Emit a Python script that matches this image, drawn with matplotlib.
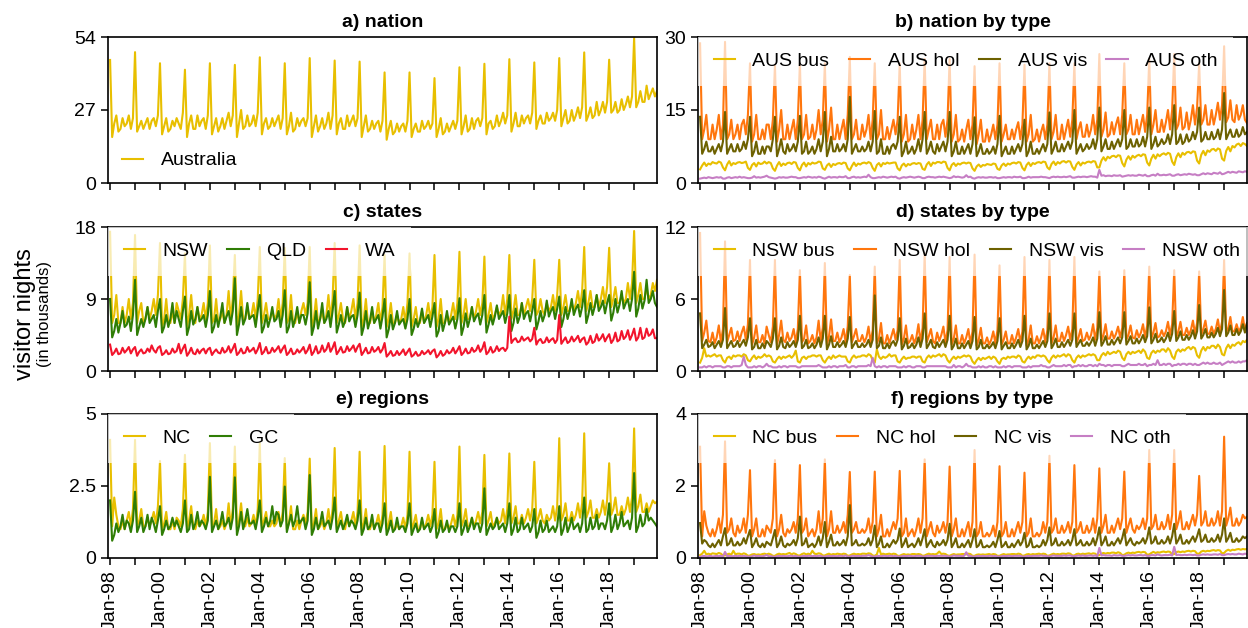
import matplotlib
matplotlib.use("Agg")
import matplotlib.pyplot as plt
import numpy as np

plt.rcParams['font.family'] = ['Liberation Sans', 'DejaVu Sans']

# monthly visitor nights (thousands), Jan-1998 .. Dec-2019, one row per year
australia = [
    45.5, 17, 22, 25, 19, 20, 24, 21, 22, 25, 20, 24,
    48.4, 19, 21, 23, 20, 22, 24, 20, 23, 24, 21, 25,
    44.3, 18, 21, 24, 19, 20, 23, 21, 24, 22, 20, 26,
    41.9, 17, 22, 25, 20, 20, 25, 21, 23, 24, 20, 25,
    44.3, 18, 21, 24, 19, 21, 24, 20, 23, 26, 21, 25,
    43.7, 17, 22, 27, 20, 21, 25, 21, 22, 25, 21, 26,
    46.5, 18, 22, 24, 20, 21, 24, 21, 23, 25, 20, 24,
    44.3, 18, 21, 26, 19, 20, 24, 21, 23, 24, 21, 24,
    46.2, 17, 21, 25, 19, 21, 24, 20, 22, 26, 20, 25,
    45.3, 18, 22, 24, 20, 20, 25, 21, 23, 25, 21, 24,
    44.9, 17, 21, 25, 19, 20, 23, 20, 22, 23, 19, 23,
    40.9, 16, 20, 23, 18, 19, 22, 19, 21, 22, 19, 23,
    40.9, 17, 20, 22, 19, 19, 23, 20, 21, 23, 20, 22,
    38.8, 17, 20, 24, 18, 19, 22, 19, 21, 23, 20, 23,
    42.8, 18, 21, 25, 19, 20, 24, 20, 23, 24, 21, 24,
    44.1, 18, 22, 23, 20, 21, 25, 21, 23, 26, 22, 25,
    45.8, 19, 22, 26, 21, 21, 25, 22, 24, 25, 22, 26,
    44.6, 20, 23, 25, 22, 22, 26, 23, 24, 26, 23, 27,
    46.2, 21, 24, 27, 22, 23, 27, 23, 25, 28, 24, 28,
    48.3, 23, 25, 28, 24, 25, 30, 25, 27, 30, 26, 30,
    45.6, 26, 27, 30, 26, 27, 31, 27, 29, 32, 28, 32,
    53.6, 28, 30, 34, 30, 30, 36, 31, 33, 35, 32, 34,
]

aus_bus = [
    2.8, 3.6, 4.2, 3.5, 4.0, 3.8, 4.3, 4.1, 4.0, 4.4, 4.2, 3.2,
    2.6, 3.8, 4.5, 3.6, 4.1, 3.9, 4.2, 4.3, 4.1, 4.2, 4.4, 3.1,
    2.7, 3.7, 4.1, 3.4, 4.2, 3.9, 4.0, 4.4, 4.0, 4.3, 4.1, 3.0,
    2.5, 3.6, 4.3, 3.5, 4.0, 3.7, 4.1, 4.2, 3.9, 4.3, 4.2, 3.1,
    2.6, 3.7, 4.2, 3.4, 4.1, 3.8, 4.2, 4.0, 4.1, 4.4, 4.3, 3.0,
    2.7, 3.6, 4.0, 3.3, 3.9, 3.7, 4.0, 4.1, 3.9, 4.2, 4.1, 3.0,
    2.6, 3.5, 4.2, 3.5, 4.0, 3.8, 4.1, 4.2, 4.0, 4.3, 4.1, 3.1,
    2.5, 3.7, 4.1, 3.4, 4.1, 3.9, 4.2, 4.0, 4.1, 4.2, 4.2, 3.0,
    2.6, 3.6, 4.0, 3.4, 3.9, 3.7, 4.0, 4.1, 3.9, 4.1, 4.0, 2.9,
    2.7, 3.8, 4.3, 3.5, 4.2, 4.0, 4.3, 4.3, 4.1, 4.4, 4.3, 3.1,
    2.6, 3.7, 4.1, 3.5, 4.0, 3.8, 4.1, 4.2, 4.0, 4.2, 4.1, 3.0,
    2.5, 3.4, 3.8, 3.3, 3.7, 3.6, 3.9, 3.8, 3.7, 4.0, 3.9, 2.9,
    2.7, 3.6, 4.0, 3.5, 4.0, 3.8, 4.1, 4.2, 4.0, 4.3, 4.2, 3.1,
    2.6, 3.7, 4.2, 3.5, 4.1, 3.9, 4.2, 4.3, 4.1, 4.4, 4.3, 3.2,
    2.8, 3.9, 4.4, 3.7, 4.3, 4.0, 4.4, 4.5, 4.2, 4.5, 4.4, 3.3,
    2.7, 3.8, 4.3, 3.6, 4.2, 4.0, 4.3, 4.4, 4.2, 4.5, 4.4, 3.2,
    3.2, 4.6, 5.3, 4.6, 5.4, 5.1, 5.5, 5.6, 5.3, 5.7, 5.6, 4.1,
    3.4, 4.8, 5.5, 4.8, 5.6, 5.2, 5.6, 5.8, 5.5, 5.9, 5.8, 4.2,
    3.6, 5.0, 5.8, 5.0, 5.9, 5.5, 5.9, 6.1, 5.8, 6.2, 6.0, 4.4,
    3.7, 5.3, 6.1, 5.3, 6.2, 5.8, 6.3, 6.4, 6.1, 6.5, 6.4, 4.6,
    4.0, 5.8, 6.6, 5.7, 6.7, 6.4, 6.9, 7.0, 6.6, 7.1, 6.9, 5.0,
    4.6, 6.6, 7.4, 6.5, 7.6, 7.3, 7.9, 8.1, 7.6, 8.2, 8.0, 7.6,
]

aus_hol = [
    28.7, 9, 11, 14, 9, 9, 12, 9, 11, 14, 9, 12,
    29.0, 9, 10, 13, 9, 10, 12, 9, 12, 13, 10, 14,
    24.6, 8.5, 10, 14, 9, 9, 11, 9, 12, 12, 9, 13,
    24.3, 8.5, 11, 15, 9, 9, 12, 9, 11, 13, 9, 13,
    24.6, 9, 10, 14, 9, 9.5, 12, 9, 11, 15, 10, 13,
    24.6, 8.5, 11, 15.5, 9, 9, 12, 9, 11, 13, 9, 14,
    25.9, 9, 10, 13, 9, 9, 12, 9.5, 11, 14, 9, 13,
    24.6, 9, 10, 15, 9, 9, 11.5, 9, 11, 13, 10, 13,
    24.6, 8.5, 10, 14, 8.5, 9, 12, 9, 11, 14, 9, 13,
    25.5, 9, 11, 13, 9, 9, 12, 9, 12, 13, 9.5, 13,
    25.5, 8.5, 10, 14, 8.5, 9, 11, 8.5, 11, 13, 9, 12,
    24.0, 8, 10, 13, 8.5, 8.5, 11, 8.5, 10, 12, 9, 12,
    24.6, 8.5, 10, 12, 9, 9, 11, 9, 11, 12.5, 9, 12,
    24.3, 8.5, 10, 14, 8.5, 9, 11, 8.5, 10.5, 12, 9, 12,
    24.6, 9, 10.5, 14, 9, 9, 12, 9, 11, 13, 9.5, 13,
    24.6, 9, 11, 12.5, 9.5, 9.5, 12, 9.5, 11, 14, 10, 13,
    26.5, 9.5, 11, 14.5, 9.5, 10, 12.5, 10, 12, 13.5, 10, 14,
    24.6, 10, 11, 14, 10, 10, 13, 10, 12, 14, 10.5, 14,
    25.5, 10, 12, 15, 10.5, 10.5, 13, 10.5, 12.5, 15, 11, 15,
    26.5, 11, 12, 15.5, 11, 11.5, 14.5, 11, 13, 16, 12, 15.5,
    24.6, 12, 13, 16, 12, 12, 15, 12, 14, 16.5, 13, 16,
    28.1, 12.5, 13.5, 17, 13, 12.5, 16, 13, 14, 16, 13, 12.3,
]

aus_vis = [
    13.6, 6, 7, 8.5, 6.5, 6.5, 7.5, 6, 7, 8, 6.5, 8.5,
    14.6, 6, 7, 8, 6.5, 6.5, 8, 6.5, 7, 8.5, 7, 9,
    13.6, 5.5, 6.5, 8.5, 6, 6, 7.5, 6, 7.5, 7.5, 6.5, 9,
    13.6, 5.5, 7, 9, 6.5, 6, 8, 6.5, 7, 8, 6.5, 8.5,
    13.8, 6, 6.5, 8.5, 6, 6.5, 7.5, 6, 7, 9, 6.5, 8.5,
    14.6, 5.5, 7, 9.5, 6.5, 6.5, 8, 6.5, 7, 8, 6.5, 9,
    17.7, 6, 7, 8, 6.5, 6.5, 7.5, 6.5, 7, 8.5, 6.5, 8.5,
    14.8, 6, 6.5, 9, 6, 6, 7.5, 6, 7.5, 8, 7, 8.5,
    13.6, 5.5, 6.5, 8.5, 6, 6.5, 7.5, 6, 7, 9, 6.5, 9,
    14.6, 6, 7, 8.5, 6.5, 6, 8, 6.5, 7.5, 8.5, 6.5, 8.5,
    14.6, 5.5, 6.5, 8.5, 6, 6, 7.5, 6, 7, 8, 6, 8,
    13.5, 5.5, 6.5, 8, 6, 6, 7, 6, 6.5, 7.5, 6, 8,
    13.8, 5.5, 6.5, 7.5, 6, 6, 7.5, 6, 7, 8, 6.5, 8,
    13.0, 5.5, 6.5, 8.5, 6, 6, 7, 6, 7, 8, 6.5, 8,
    14.5, 6, 7, 8.5, 6.5, 6.5, 8, 6.5, 7.5, 8.5, 7, 8.5,
    15.0, 6, 7, 8, 6.5, 7, 8, 7, 7.5, 9, 7, 9,
    15.5, 6.5, 7.5, 9, 7, 7, 8.5, 7, 8, 9, 7.5, 9,
    15.0, 7, 7.5, 9, 7.5, 7.5, 9, 7.5, 8, 9.5, 7.5, 9.5,
    15.5, 7, 8, 9.5, 7.5, 8, 9, 8, 8.5, 10, 8, 10,
    16.0, 8, 8.5, 10, 8, 8.5, 10, 8.5, 9, 10.5, 9, 10.5,
    15.5, 8.5, 9, 10.5, 9, 9, 10.5, 9, 9.5, 11, 9, 11,
    18.5, 9, 10, 11, 9.5, 9.5, 11, 9.5, 10, 11.5, 10, 10.5,
]

aus_oth = [
    0.9, 1.0, 1.1, 1.0, 1.2, 1.1, 1.0, 1.1, 1.2, 1.1, 1.2, 0.9,
    0.9, 1.1, 1.2, 1.0, 1.1, 1.2, 1.1, 1.3, 1.1, 1.2, 1.1, 1.0,
    1.0, 1.1, 1.4, 1.1, 1.2, 1.1, 1.2, 1.3, 1.5, 1.2, 1.1, 1.0,
    0.9, 1.0, 1.2, 1.1, 1.2, 1.1, 1.1, 1.2, 1.3, 1.2, 1.2, 1.0,
    1.0, 1.1, 1.2, 1.1, 1.3, 1.2, 1.1, 1.2, 1.1, 1.3, 1.2, 1.0,
    0.9, 1.1, 1.3, 1.1, 1.2, 1.2, 1.1, 1.3, 1.2, 1.2, 1.4, 1.0,
    1.0, 1.2, 1.3, 1.1, 1.2, 1.1, 1.2, 1.3, 1.2, 1.7, 1.2, 1.0,
    1.0, 1.1, 1.2, 1.1, 1.3, 1.2, 1.1, 1.2, 1.3, 1.2, 1.3, 1.0,
    0.9, 1.1, 1.2, 1.1, 1.2, 1.3, 1.2, 1.1, 1.2, 1.3, 1.2, 1.0,
    1.0, 1.2, 1.3, 1.2, 1.2, 1.1, 1.2, 1.3, 1.2, 1.3, 1.2, 1.1,
    1.0, 1.1, 1.4, 1.2, 1.3, 1.2, 1.1, 1.2, 1.6, 1.2, 1.3, 1.0,
    0.9, 1.1, 1.2, 1.1, 1.2, 1.1, 1.1, 1.2, 1.2, 1.1, 1.2, 1.0,
    1.0, 1.1, 1.2, 1.1, 1.2, 1.2, 1.1, 1.3, 1.2, 1.2, 1.3, 1.0,
    1.0, 1.1, 1.3, 1.1, 1.2, 1.2, 1.2, 1.2, 1.3, 1.2, 1.2, 1.1,
    1.0, 1.2, 1.3, 1.2, 1.3, 1.2, 1.2, 1.3, 1.2, 1.3, 1.4, 1.1,
    1.1, 1.2, 1.3, 1.2, 1.3, 1.3, 1.2, 1.3, 1.4, 1.3, 1.3, 1.1,
    2.7, 1.5, 1.6, 1.4, 1.5, 1.5, 1.4, 1.6, 1.5, 1.5, 1.6, 1.3,
    1.4, 1.5, 1.6, 1.5, 1.6, 1.5, 1.5, 1.7, 1.6, 1.5, 1.7, 1.4,
    1.4, 1.6, 1.7, 1.5, 1.9, 1.6, 1.6, 1.7, 1.6, 1.7, 1.8, 1.5,
    1.5, 1.7, 1.8, 1.6, 1.7, 1.8, 1.7, 1.9, 1.8, 1.7, 1.8, 1.6,
    1.6, 1.8, 2.0, 1.8, 2.0, 1.9, 1.8, 2.1, 2.0, 1.9, 2.2, 1.8,
    1.9, 2.1, 2.3, 2.1, 2.3, 2.2, 2.1, 2.4, 2.3, 2.2, 2.4, 2.3,
]

nsw = [
    17.4, 6, 7, 9.5, 6, 6, 8, 6, 7, 9, 6.5, 8.5,
    17.0, 6, 7.5, 8.5, 6, 6.5, 8, 6.5, 7.5, 9, 7, 9.5,
    16.0, 5.5, 6.5, 9, 6, 6, 7.5, 6, 8.5, 7.5, 6.5, 9,
    14.7, 5.5, 7, 9.5, 6.5, 6, 8, 6.5, 7, 8.5, 6.5, 8.5,
    15.7, 6, 6.5, 9, 6, 6.5, 7.5, 6, 7, 10, 6.5, 9,
    14.5, 5.5, 7, 10, 6.5, 6.5, 8, 6.5, 7, 8.5, 6.5, 9,
    15.5, 6, 7, 8.5, 6.5, 6.5, 7.5, 6.5, 7, 9, 6.5, 8.5,
    15.4, 6, 6.5, 9.5, 6, 6, 7.5, 6, 7.5, 8.5, 7, 8.5,
    15.5, 5.5, 6.5, 9, 6, 6.5, 7.5, 6, 7, 9.5, 6.5, 9,
    16.0, 6, 7, 8.5, 6.5, 6, 8, 6.5, 7.5, 9, 6.5, 8.5,
    15.7, 5.5, 6.5, 9, 6, 6, 7.5, 6, 7, 8.5, 6, 8,
    14.5, 5.5, 6.5, 8.5, 6, 6, 7, 6, 6.5, 8, 6, 8.5,
    14.7, 5.5, 6.5, 8, 6, 6, 7.5, 6, 7, 8.5, 6.5, 8,
    14.5, 5.5, 6.5, 9, 6, 6, 7, 6, 7, 8.5, 6.5, 8.5,
    14.9, 6, 7, 9, 6.5, 6.5, 8, 6.5, 7.5, 9, 7, 8.5,
    14.3, 6, 7, 8.5, 6.5, 7, 8, 7, 7.5, 9.5, 7, 9,
    14.5, 6.5, 7.5, 9.5, 7, 7, 8.5, 7, 8, 9, 7.5, 9,
    13.9, 7, 7.5, 9, 7.5, 7, 8.5, 7.5, 8, 9.5, 7.5, 9.5,
    13.9, 7, 8, 9.5, 7.5, 7.5, 8.5, 7.5, 8.5, 10, 8, 10,
    15.5, 7.5, 8.5, 10, 8, 8, 9.5, 8, 9, 10.5, 8.5, 10.5,
    15.4, 8, 9, 10.5, 8.5, 8.5, 9.5, 8.5, 9, 11, 9, 11,
    17.5, 8.5, 9.5, 11, 9, 9, 10.5, 9, 9.5, 11, 10, 11.4,
]

qld = [
    9.0, 4.2, 5.0, 6.5, 4.8, 6.0, 7.5, 5.5, 5.8, 6.8, 5.0, 7.0,
    11.4, 4.5, 5.5, 6.5, 5.5, 6.5, 8.0, 6.0, 6.5, 7.0, 5.5, 7.5,
    9.0, 4.8, 5.5, 7.0, 5.5, 6.5, 8.5, 6.0, 7.5, 6.5, 5.5, 7.5,
    9.3, 4.5, 5.5, 7.5, 5.8, 6.5, 8.0, 6.2, 6.5, 7.0, 5.5, 7.0,
    10.0, 4.8, 5.5, 7.0, 5.5, 6.8, 8.5, 6.0, 6.8, 7.5, 5.8, 7.5,
    11.6, 4.5, 5.8, 8.0, 5.8, 6.5, 8.5, 6.5, 6.8, 7.0, 5.5, 7.5,
    9.5, 4.8, 5.5, 7.0, 5.5, 6.5, 8.0, 6.2, 6.5, 7.5, 5.5, 7.0,
    10.1, 4.8, 5.5, 7.5, 5.5, 6.5, 8.0, 6.0, 7.0, 7.0, 5.8, 7.2,
    11.1, 4.5, 5.5, 7.5, 5.3, 6.5, 8.5, 6.0, 6.5, 7.5, 5.5, 7.5,
    10.0, 4.8, 5.8, 7.0, 5.5, 6.2, 8.0, 6.2, 6.8, 7.0, 5.5, 7.0,
    9.8, 4.5, 5.5, 7.5, 5.3, 6.3, 8.0, 6.0, 6.5, 7.0, 5.3, 6.8,
    9.0, 4.2, 5.2, 7.0, 5.2, 6.0, 7.5, 5.8, 6.2, 6.5, 5.3, 6.5,
    9.0, 4.5, 5.3, 6.5, 5.5, 6.3, 7.8, 6.0, 6.5, 7.0, 5.5, 6.8,
    8.5, 4.3, 5.0, 7.0, 5.0, 6.0, 7.5, 5.8, 6.3, 6.8, 5.3, 6.5,
    9.1, 4.5, 5.5, 7.2, 5.5, 6.5, 8.0, 6.2, 6.8, 7.2, 5.8, 7.0,
    9.5, 4.8, 5.8, 7.0, 5.8, 6.8, 8.2, 6.5, 7.0, 7.5, 6.0, 7.2,
    9.5, 5.0, 6.0, 7.8, 6.0, 6.8, 8.5, 6.5, 7.2, 7.5, 6.2, 7.5,
    9.0, 5.2, 6.2, 7.5, 6.2, 7.0, 8.8, 6.8, 7.5, 8.0, 6.5, 7.8,
    9.3, 5.5, 6.5, 8.0, 6.5, 7.5, 9.0, 7.0, 7.8, 8.3, 6.8, 8.0,
    10.1, 6.0, 7.0, 8.5, 7.0, 8.0, 9.5, 7.5, 8.0, 8.8, 7.2, 8.5,
    9.5, 6.3, 7.3, 9.0, 7.3, 8.3, 10.0, 7.8, 8.5, 9.0, 7.5, 9.0,
    12.4, 6.8, 7.8, 9.5, 7.8, 8.8, 11.4, 8.5, 9.0, 10.0, 8.5, 8.0,
]

wa = [
    3.3, 2.0, 2.3, 2.8, 2.1, 2.2, 2.9, 2.3, 2.6, 3.0, 2.2, 2.7,
    3.0, 1.9, 2.4, 2.7, 2.2, 2.3, 2.8, 2.4, 3.2, 2.6, 2.3, 2.9,
    3.1, 2.0, 2.2, 2.6, 2.1, 2.2, 2.8, 2.3, 2.5, 3.4, 2.2, 2.8,
    3.3, 1.9, 2.3, 2.9, 2.2, 2.1, 2.7, 2.2, 2.6, 2.8, 2.2, 2.7,
    2.9, 2.0, 2.4, 2.7, 2.3, 2.2, 2.9, 2.3, 2.5, 3.1, 2.3, 2.8,
    3.4, 2.0, 2.3, 2.8, 2.2, 2.3, 3.0, 2.4, 2.6, 2.9, 2.2, 2.7,
    3.5, 2.1, 2.4, 3.0, 2.2, 2.3, 2.9, 2.4, 2.7, 3.1, 2.3, 2.8,
    3.2, 2.0, 2.3, 2.8, 2.1, 2.2, 2.7, 2.3, 2.6, 3.0, 2.2, 2.6,
    3.3, 2.0, 2.4, 3.1, 2.2, 2.4, 3.2, 2.4, 2.7, 3.5, 2.4, 2.9,
    3.6, 2.1, 2.5, 3.0, 2.3, 2.4, 3.1, 2.5, 2.8, 3.2, 2.4, 3.0,
    3.4, 2.0, 2.4, 2.9, 2.2, 2.3, 3.0, 2.4, 2.6, 3.0, 2.3, 2.7,
    3.5, 1.8, 2.1, 2.5, 1.9, 2.0, 2.5, 2.0, 2.3, 2.7, 2.0, 2.4,
    2.8, 1.8, 2.0, 2.4, 1.9, 2.0, 2.5, 2.1, 2.3, 2.6, 2.1, 2.5,
    2.7, 1.7, 2.0, 2.5, 1.9, 2.1, 2.6, 2.2, 2.4, 2.9, 2.2, 2.6,
    3.1, 2.0, 2.3, 2.8, 2.2, 2.3, 2.9, 2.4, 2.6, 3.2, 2.4, 2.8,
    3.6, 2.1, 2.4, 3.0, 2.3, 2.5, 3.1, 2.5, 2.8, 2.9, 2.5, 2.9,
    6.8, 3.5, 3.9, 4.1, 3.6, 3.7, 4.3, 3.8, 4.0, 4.2, 3.7, 4.0,
    5.4, 3.3, 3.8, 4.0, 3.5, 3.6, 4.2, 3.6, 3.9, 4.1, 3.5, 3.9,
    7.0, 3.4, 3.8, 4.2, 3.5, 3.7, 4.3, 3.7, 4.0, 4.4, 3.6, 4.0,
    4.2, 3.3, 3.6, 4.4, 3.5, 3.7, 4.6, 3.8, 4.1, 4.6, 3.7, 4.2,
    4.6, 3.5, 3.9, 4.8, 3.7, 3.9, 5.0, 4.0, 4.3, 5.1, 3.9, 4.5,
    5.3, 3.8, 4.2, 5.4, 4.0, 4.2, 5.3, 4.4, 4.6, 5.2, 4.1, 4.1,
]

nsw_bus = [
    0.7, 1.1, 1.9, 1.2, 1.3, 1.2, 1.3, 1.4, 1.2, 1.3, 1.3, 0.9,
    0.7, 1.1, 1.2, 1.0, 1.3, 1.2, 1.3, 1.3, 1.2, 1.4, 1.3, 0.9,
    0.8, 1.1, 1.3, 1.0, 1.2, 1.1, 1.2, 1.4, 1.2, 1.3, 1.2, 0.8,
    0.7, 1.0, 1.2, 1.0, 1.2, 1.1, 1.2, 1.3, 1.1, 1.3, 1.7, 0.8,
    0.7, 1.1, 1.2, 1.0, 1.2, 1.2, 1.3, 1.3, 1.2, 1.3, 1.3, 0.9,
    0.7, 1.0, 1.2, 1.0, 1.3, 1.1, 1.2, 1.3, 1.2, 1.2, 1.2, 0.8,
    0.7, 1.1, 1.3, 1.1, 1.2, 1.2, 1.3, 1.3, 1.2, 1.4, 1.3, 0.9,
    0.7, 1.8, 1.2, 1.0, 1.2, 1.1, 1.2, 1.4, 1.2, 1.3, 1.3, 0.8,
    0.7, 1.0, 1.2, 1.0, 1.1, 1.1, 1.2, 1.2, 1.1, 1.2, 1.2, 0.8,
    0.7, 1.1, 1.3, 1.1, 1.3, 1.2, 1.3, 1.4, 1.2, 1.4, 1.3, 0.9,
    0.7, 1.0, 1.2, 1.0, 1.2, 1.1, 1.2, 1.3, 1.2, 1.3, 1.2, 0.8,
    0.6, 0.9, 1.1, 0.9, 1.1, 1.0, 1.1, 1.2, 1.0, 1.2, 1.1, 0.8,
    0.6, 1.0, 1.1, 1.0, 1.2, 1.1, 1.2, 1.2, 1.1, 1.3, 1.2, 0.8,
    0.7, 1.0, 1.2, 1.0, 1.2, 1.1, 1.3, 1.3, 1.2, 1.3, 1.2, 0.9,
    0.7, 1.1, 1.3, 1.1, 1.3, 1.2, 1.3, 1.4, 1.2, 1.4, 1.3, 0.9,
    0.7, 1.1, 1.3, 1.1, 1.3, 1.2, 1.3, 1.4, 1.3, 1.4, 1.3, 0.9,
    0.9, 1.3, 1.5, 1.3, 1.6, 1.4, 1.5, 1.6, 1.5, 1.7, 1.6, 1.1,
    0.9, 1.4, 1.6, 1.4, 1.6, 1.5, 1.6, 1.7, 1.5, 1.8, 1.6, 1.1,
    1.0, 1.5, 1.7, 1.5, 1.7, 1.6, 1.8, 1.8, 1.6, 1.9, 1.7, 1.2,
    1.0, 1.6, 1.8, 1.6, 1.8, 1.7, 1.9, 2.0, 1.8, 2.0, 1.9, 1.3,
    1.1, 1.7, 2.0, 1.7, 2.0, 1.9, 2.1, 2.1, 1.9, 2.2, 2.0, 1.4,
    1.3, 1.9, 2.2, 1.9, 2.2, 2.1, 2.3, 2.4, 2.2, 2.5, 2.4, 2.6,
]

nsw_hol = [
    11.5, 2.5, 3.2, 4.2, 2.5, 2.4, 3.2, 2.3, 2.8, 3.8, 2.4, 3.5,
    10.8, 2.4, 3.0, 3.6, 2.5, 2.6, 3.3, 2.5, 3.2, 3.7, 2.6, 3.9,
    9.25, 2.2, 2.8, 3.8, 2.4, 2.4, 3.0, 2.3, 3.7, 3.0, 2.4, 3.7,
    9.25, 2.2, 3.0, 4.2, 2.6, 2.4, 3.2, 2.5, 2.8, 3.5, 2.4, 3.5,
    8.4, 2.4, 2.7, 3.8, 2.3, 2.5, 3.0, 2.3, 2.8, 4.2, 2.5, 3.6,
    9.0, 2.2, 2.9, 4.3, 2.5, 2.5, 3.2, 2.4, 2.8, 3.5, 2.4, 3.7,
    8.0, 2.4, 2.9, 3.5, 2.5, 2.5, 3.0, 2.4, 2.8, 3.7, 2.4, 3.4,
    8.7, 2.3, 2.7, 4.0, 2.3, 2.3, 3.0, 2.3, 2.9, 3.5, 2.6, 3.4,
    9.25, 2.2, 2.7, 3.8, 2.3, 2.5, 3.0, 2.3, 2.8, 3.9, 2.4, 3.6,
    9.8, 2.4, 2.9, 3.5, 2.5, 2.3, 3.2, 2.5, 3.0, 3.7, 2.4, 3.4,
    9.5, 2.2, 2.7, 3.8, 2.3, 2.3, 3.0, 2.3, 2.8, 3.5, 2.3, 3.3,
    9.7, 2.1, 2.6, 3.6, 2.3, 2.3, 2.8, 2.2, 2.6, 3.3, 2.3, 3.4,
    8.8, 2.2, 2.6, 3.3, 2.3, 2.3, 3.0, 2.3, 2.8, 3.5, 2.4, 3.3,
    9.5, 2.1, 2.6, 3.8, 2.3, 2.3, 2.9, 2.3, 2.8, 3.5, 2.4, 3.4,
    9.25, 2.3, 2.8, 3.8, 2.5, 2.5, 3.2, 2.5, 3.0, 3.7, 2.6, 3.5,
    9.5, 2.3, 2.8, 3.5, 2.5, 2.6, 3.2, 2.6, 3.0, 3.9, 2.6, 3.6,
    8.3, 2.5, 3.0, 3.9, 2.7, 2.7, 3.3, 2.7, 3.1, 3.7, 2.8, 3.6,
    8.4, 2.6, 3.0, 3.8, 2.8, 2.7, 3.4, 2.8, 3.2, 3.9, 2.8, 3.8,
    8.7, 2.7, 3.2, 4.0, 2.8, 2.9, 3.4, 2.9, 3.3, 4.1, 3.0, 3.9,
    8.4, 2.8, 3.3, 4.1, 3.0, 3.0, 3.6, 3.0, 3.4, 4.2, 3.1, 4.0,
    8.3, 3.0, 3.5, 4.2, 3.1, 3.1, 3.7, 3.1, 3.5, 4.3, 3.2, 4.1,
    9.25, 3.2, 3.6, 4.5, 3.3, 3.3, 3.9, 3.3, 3.6, 4.5, 3.4, 4.0,
]

nsw_vis = [
    4.8, 1.9, 2.2, 2.6, 2.0, 2.1, 2.4, 1.9, 2.2, 2.5, 2.0, 2.6,
    5.25, 1.9, 2.2, 2.5, 2.0, 2.1, 2.5, 2.0, 2.3, 2.6, 2.1, 2.8,
    4.4, 1.8, 2.0, 2.6, 1.9, 1.9, 2.3, 1.9, 2.5, 2.3, 2.0, 2.7,
    4.4, 1.8, 2.1, 2.8, 2.0, 1.9, 2.4, 2.0, 2.2, 2.5, 2.0, 2.6,
    4.6, 1.9, 2.1, 2.6, 1.9, 2.0, 2.3, 1.9, 2.2, 2.8, 2.0, 2.7,
    4.6, 1.8, 2.2, 2.9, 2.0, 2.0, 2.4, 2.0, 2.2, 2.5, 2.0, 2.7,
    4.5, 1.9, 2.2, 2.5, 2.0, 2.0, 2.3, 2.0, 2.2, 2.6, 2.0, 2.6,
    6.3, 1.9, 2.1, 2.8, 1.9, 1.9, 2.3, 1.9, 2.3, 2.5, 2.1, 2.6,
    4.4, 1.8, 2.1, 2.7, 1.9, 2.0, 2.3, 1.9, 2.2, 2.8, 2.0, 2.7,
    4.8, 1.9, 2.2, 2.6, 2.0, 1.9, 2.4, 2.0, 2.3, 2.6, 2.0, 2.6,
    4.6, 1.8, 2.1, 2.7, 1.9, 1.9, 2.3, 1.9, 2.2, 2.5, 1.9, 2.5,
    4.5, 1.8, 2.0, 2.6, 1.9, 1.9, 2.2, 1.9, 2.1, 2.4, 1.9, 2.5,
    4.4, 1.8, 2.1, 2.4, 1.9, 1.9, 2.3, 1.9, 2.2, 2.6, 2.0, 2.5,
    4.6, 1.8, 2.1, 2.7, 1.9, 1.9, 2.2, 1.9, 2.2, 2.5, 2.0, 2.5,
    4.8, 1.9, 2.2, 2.7, 2.0, 2.0, 2.4, 2.0, 2.3, 2.6, 2.1, 2.6,
    4.8, 2.0, 2.3, 2.6, 2.1, 2.1, 2.4, 2.1, 2.4, 2.8, 2.1, 2.7,
    4.9, 2.1, 2.4, 2.9, 2.2, 2.2, 2.6, 2.2, 2.5, 2.8, 2.3, 2.8,
    4.9, 2.2, 2.5, 2.9, 2.3, 2.3, 2.7, 2.3, 2.6, 3.0, 2.4, 2.9,
    5.3, 2.3, 2.6, 3.1, 2.4, 2.5, 2.8, 2.4, 2.7, 3.2, 2.5, 3.1,
    5.0, 2.5, 2.8, 3.3, 2.6, 2.6, 3.0, 2.6, 2.9, 3.4, 2.7, 3.3,
    5.5, 2.7, 3.0, 3.5, 2.8, 2.8, 3.2, 2.8, 3.1, 3.6, 2.9, 3.5,
    6.75, 2.9, 3.2, 3.8, 3.0, 3.0, 3.5, 3.0, 3.3, 3.9, 3.2, 4.0,
]

nsw_oth = [
    0.3, 0.3, 0.4, 0.3, 0.4, 0.4, 0.3, 0.4, 0.4, 0.4, 0.4, 0.3,
    0.3, 0.4, 0.4, 0.3, 0.4, 0.4, 0.4, 0.4, 0.5, 1.2, 0.5, 0.3,
    0.3, 0.3, 0.4, 0.3, 0.4, 0.4, 0.3, 0.4, 0.6, 0.4, 0.4, 0.3,
    0.3, 0.3, 0.4, 0.3, 0.4, 0.4, 0.3, 0.4, 0.4, 0.4, 0.4, 0.3,
    0.3, 0.4, 0.4, 0.4, 0.4, 0.4, 0.4, 0.4, 0.4, 0.5, 0.4, 0.3,
    0.3, 0.3, 0.4, 0.3, 0.4, 0.4, 0.3, 0.4, 0.4, 0.4, 0.5, 0.3,
    0.3, 0.4, 0.4, 0.3, 0.4, 0.4, 0.4, 0.4, 0.4, 0.5, 0.4, 1.1,
    0.4, 0.3, 0.4, 0.3, 0.4, 0.4, 0.3, 0.4, 0.4, 0.4, 0.4, 0.3,
    0.3, 0.3, 0.4, 0.3, 0.4, 0.4, 0.3, 0.3, 0.4, 0.4, 0.4, 0.3,
    0.3, 0.4, 0.4, 0.4, 0.4, 0.4, 0.4, 0.4, 0.4, 0.4, 0.4, 0.3,
    0.3, 0.3, 0.5, 0.3, 0.4, 0.4, 0.3, 0.4, 0.6, 0.4, 0.4, 0.3,
    0.3, 0.3, 0.4, 0.3, 0.4, 0.3, 0.3, 0.4, 0.4, 0.3, 0.4, 0.3,
    0.3, 0.3, 0.4, 0.3, 0.4, 0.4, 0.3, 0.4, 0.4, 0.4, 0.4, 0.3,
    0.3, 0.3, 0.4, 0.3, 0.4, 0.4, 0.4, 0.4, 0.5, 0.4, 0.4, 0.3,
    0.3, 0.4, 0.5, 0.4, 0.4, 0.4, 0.4, 0.5, 0.4, 0.5, 0.5, 0.3,
    0.4, 0.4, 0.5, 0.4, 0.5, 0.4, 0.4, 0.5, 0.5, 0.4, 0.5, 0.4,
    0.6, 0.5, 0.5, 0.4, 0.5, 0.5, 0.4, 0.5, 0.5, 0.5, 0.5, 0.4,
    0.4, 0.5, 0.6, 0.5, 0.5, 0.5, 0.5, 0.6, 0.5, 0.5, 0.6, 0.4,
    0.5, 0.5, 0.6, 0.5, 0.9, 0.5, 0.5, 0.6, 0.5, 0.6, 0.6, 0.4,
    0.5, 0.5, 0.6, 0.5, 0.6, 0.6, 0.5, 0.6, 0.6, 0.5, 0.6, 0.5,
    0.5, 0.6, 0.7, 0.6, 0.7, 0.6, 0.6, 0.7, 0.6, 0.6, 0.7, 0.5,
    0.6, 0.7, 0.8, 0.7, 0.8, 0.7, 0.7, 0.8, 0.7, 0.8, 0.8, 0.9,
]

nc = [
    4.1, 1.1, 2.1, 1.5, 1.1, 1.0, 1.3, 1.0, 1.3, 1.6, 1.1, 1.7,
    4.1, 1.1, 1.3, 1.7, 1.1, 1.1, 1.4, 1.1, 1.3, 1.6, 1.2, 1.8,
    3.37, 1.0, 1.2, 1.6, 1.0, 1.0, 1.3, 1.0, 1.4, 1.3, 1.1, 1.7,
    3.58, 1.0, 1.3, 1.8, 1.1, 1.0, 1.3, 1.1, 1.2, 1.5, 1.1, 1.6,
    3.99, 1.1, 1.2, 1.7, 1.0, 1.1, 1.3, 1.0, 1.2, 1.9, 1.1, 1.7,
    3.87, 1.0, 1.3, 1.9, 1.1, 1.1, 1.4, 1.1, 1.2, 1.5, 1.1, 1.7,
    3.99, 1.1, 1.3, 1.6, 1.1, 1.1, 1.3, 1.1, 1.2, 1.6, 1.1, 1.6,
    3.47, 1.0, 1.2, 1.8, 1.0, 1.0, 1.3, 1.0, 1.3, 1.5, 1.2, 1.6,
    3.45, 1.0, 1.2, 1.7, 1.0, 1.1, 1.3, 1.0, 1.2, 1.7, 1.1, 1.7,
    3.82, 1.0, 1.3, 1.6, 1.1, 1.0, 1.4, 1.1, 1.3, 1.6, 1.1, 1.6,
    3.69, 1.0, 1.2, 1.7, 1.0, 1.0, 1.3, 1.0, 1.2, 1.5, 1.0, 1.5,
    3.89, 1.0, 1.2, 1.6, 1.0, 1.0, 1.2, 1.0, 1.1, 1.4, 1.0, 1.5,
    3.69, 1.0, 1.2, 1.5, 1.0, 1.0, 1.3, 1.0, 1.2, 1.5, 1.1, 1.5,
    3.34, 1.0, 1.2, 1.7, 1.0, 1.0, 1.2, 1.0, 1.2, 1.5, 1.1, 1.5,
    3.87, 1.1, 1.3, 1.7, 1.1, 1.1, 1.4, 1.1, 1.3, 1.6, 1.2, 1.6,
    3.58, 1.1, 1.3, 1.6, 1.1, 1.2, 1.4, 1.2, 1.3, 1.7, 1.2, 1.7,
    3.63, 1.2, 1.4, 1.8, 1.2, 1.2, 1.5, 1.2, 1.4, 1.7, 1.3, 1.7,
    3.34, 1.2, 1.4, 1.7, 1.3, 1.2, 1.5, 1.3, 1.4, 1.8, 1.3, 1.8,
    4.16, 1.3, 1.5, 1.9, 1.3, 1.3, 1.6, 1.3, 1.5, 1.9, 1.4, 1.9,
    4.33, 1.4, 1.6, 2.0, 1.4, 1.4, 1.7, 1.4, 1.6, 2.0, 1.5, 2.0,
    3.29, 1.5, 1.7, 2.1, 1.5, 1.5, 1.8, 1.5, 1.7, 2.1, 1.6, 2.1,
    4.5, 1.6, 1.8, 2.2, 1.6, 1.6, 1.9, 1.6, 1.8, 2.0, 1.9, 1.96,
]

gc = [
    2.0, 0.6, 0.8, 1.2, 0.9, 1.1, 1.5, 1.0, 1.3, 1.2, 0.9, 1.3,
    2.3, 0.9, 1.1, 1.4, 0.9, 1.1, 1.5, 1.0, 1.4, 1.2, 0.9, 1.3,
    1.8, 0.8, 1.0, 1.3, 1.0, 1.1, 1.4, 1.1, 1.3, 1.1, 0.9, 1.2,
    2.0, 0.9, 1.0, 1.5, 1.0, 1.2, 1.6, 1.1, 1.3, 1.2, 1.0, 1.3,
    2.82, 0.9, 1.1, 1.3, 1.0, 1.2, 1.6, 1.1, 1.2, 1.4, 1.0, 1.4,
    2.8, 0.8, 1.1, 1.6, 1.0, 1.3, 1.7, 1.2, 1.2, 1.3, 1.0, 1.4,
    2.0, 0.9, 1.1, 1.4, 1.1, 1.3, 1.8, 1.2, 1.6, 1.5, 1.1, 1.3,
    2.48, 0.9, 1.2, 1.5, 1.1, 1.3, 1.8, 1.2, 1.3, 1.4, 1.0, 1.3,
    2.88, 0.8, 1.0, 1.4, 1.0, 1.2, 1.6, 1.1, 1.2, 1.3, 1.0, 1.4,
    2.1, 0.9, 1.1, 1.3, 1.0, 1.2, 1.5, 1.1, 1.3, 1.2, 1.0, 1.3,
    2.0, 0.8, 1.0, 1.4, 1.0, 1.1, 1.5, 1.0, 1.2, 1.2, 0.9, 1.2,
    1.9, 0.8, 1.0, 1.3, 0.9, 1.0, 1.4, 1.0, 1.1, 1.1, 0.9, 1.2,
    1.9, 0.8, 1.0, 1.2, 0.9, 1.0, 1.4, 1.0, 1.1, 1.2, 0.9, 1.1,
    1.7, 0.7, 0.9, 1.3, 0.9, 1.0, 1.3, 0.9, 1.1, 1.1, 0.9, 1.1,
    1.9, 0.8, 1.0, 1.3, 0.9, 1.1, 1.4, 1.0, 1.2, 1.2, 0.9, 1.2,
    2.42, 0.8, 1.0, 1.2, 1.0, 1.1, 1.4, 1.0, 1.1, 1.2, 0.9, 1.2,
    1.9, 0.8, 1.0, 1.4, 0.9, 1.0, 1.4, 1.0, 1.1, 1.2, 0.9, 1.1,
    1.7, 0.7, 0.9, 1.3, 0.9, 1.0, 1.3, 0.9, 1.0, 1.1, 0.9, 1.1,
    1.8, 0.8, 1.0, 1.4, 0.9, 1.1, 1.4, 1.0, 1.1, 1.2, 0.9, 1.2,
    2.1, 0.9, 1.0, 1.4, 1.0, 1.1, 1.5, 1.0, 1.2, 1.2, 1.0, 1.3,
    1.9, 0.9, 1.1, 1.5, 1.0, 1.2, 1.6, 1.1, 1.2, 1.3, 1.0, 1.4,
    2.95, 0.9, 1.1, 1.5, 1.1, 1.2, 1.7, 1.3, 1.4, 1.3, 1.2, 1.09,
]

nc_bus = [
    0.08, 0.12, 0.2, 0.1, 0.12, 0.1, 0.13, 0.12, 0.11, 0.14, 0.12, 0.07,
    0.07, 0.1, 0.12, 0.09, 0.2, 0.1, 0.12, 0.12, 0.1, 0.13, 0.11, 0.06,
    0.07, 0.1, 0.11, 0.09, 0.1, 0.09, 0.11, 0.12, 0.1, 0.12, 0.1, 0.06,
    0.06, 0.1, 0.12, 0.1, 0.11, 0.1, 0.12, 0.14, 0.1, 0.13, 0.11, 0.07,
    0.07, 0.11, 0.13, 0.1, 0.12, 0.1, 0.2, 0.12, 0.11, 0.13, 0.12, 0.07,
    0.07, 0.1, 0.12, 0.09, 0.11, 0.1, 0.12, 0.11, 0.1, 0.12, 0.11, 0.06,
    0.07, 0.1, 0.12, 0.1, 0.11, 0.1, 0.12, 0.12, 0.11, 0.13, 0.12, 0.07,
    0.06, 0.1, 0.28, 0.1, 0.12, 0.1, 0.11, 0.12, 0.1, 0.12, 0.11, 0.06,
    0.06, 0.09, 0.11, 0.09, 0.1, 0.09, 0.11, 0.11, 0.1, 0.11, 0.1, 0.06,
    0.07, 0.1, 0.12, 0.1, 0.11, 0.1, 0.12, 0.18, 0.11, 0.12, 0.11, 0.07,
    0.06, 0.09, 0.11, 0.09, 0.1, 0.1, 0.11, 0.11, 0.1, 0.12, 0.11, 0.06,
    0.06, 0.09, 0.1, 0.09, 0.1, 0.09, 0.1, 0.11, 0.09, 0.11, 0.1, 0.06,
    0.06, 0.09, 0.11, 0.09, 0.1, 0.1, 0.11, 0.11, 0.1, 0.12, 0.11, 0.06,
    0.07, 0.1, 0.11, 0.09, 0.11, 0.1, 0.11, 0.12, 0.1, 0.12, 0.11, 0.06,
    0.07, 0.1, 0.12, 0.1, 0.11, 0.1, 0.12, 0.12, 0.11, 0.13, 0.12, 0.07,
    0.07, 0.11, 0.12, 0.1, 0.12, 0.11, 0.12, 0.13, 0.11, 0.13, 0.12, 0.07,
    0.08, 0.12, 0.14, 0.12, 0.14, 0.13, 0.15, 0.15, 0.13, 0.16, 0.14, 0.08,
    0.09, 0.13, 0.15, 0.13, 0.15, 0.14, 0.16, 0.17, 0.15, 0.17, 0.16, 0.09,
    0.1, 0.14, 0.17, 0.14, 0.16, 0.15, 0.17, 0.18, 0.16, 0.18, 0.17, 0.1,
    0.11, 0.16, 0.18, 0.16, 0.18, 0.17, 0.19, 0.2, 0.18, 0.2, 0.19, 0.12,
    0.12, 0.18, 0.2, 0.18, 0.2, 0.19, 0.21, 0.22, 0.2, 0.22, 0.21, 0.13,
    0.14, 0.2, 0.23, 0.2, 0.23, 0.22, 0.24, 0.25, 0.23, 0.25, 0.24, 0.25,
]

nc_hol = [
    3.09, 0.6, 1.3, 0.9, 0.7, 0.6, 0.8, 0.6, 0.8, 1.1, 0.7, 1.2,
    3.24, 0.7, 0.8, 1.1, 0.7, 0.6, 0.9, 0.7, 0.8, 1.1, 0.7, 1.2,
    2.44, 0.6, 0.8, 1.1, 0.6, 0.6, 0.8, 0.6, 0.9, 0.8, 0.7, 1.1,
    2.72, 0.6, 0.8, 1.2, 0.7, 0.6, 0.8, 0.7, 0.8, 1.0, 0.7, 1.1,
    2.58, 0.7, 0.8, 1.1, 0.6, 0.7, 0.8, 0.6, 0.8, 1.3, 0.7, 1.1,
    2.74, 0.6, 0.8, 1.3, 0.7, 0.7, 0.9, 0.7, 0.8, 1.0, 0.7, 1.2,
    2.39, 0.7, 0.8, 1.0, 0.7, 0.7, 0.8, 0.7, 0.8, 1.1, 0.7, 1.0,
    2.4, 0.6, 0.8, 1.2, 0.6, 0.6, 0.8, 0.6, 0.8, 1.0, 0.8, 1.1,
    2.42, 0.6, 0.7, 1.1, 0.6, 0.7, 0.8, 0.6, 0.8, 1.1, 0.7, 1.1,
    2.74, 0.6, 0.8, 1.0, 0.7, 0.6, 0.9, 0.7, 0.8, 1.0, 0.7, 1.0,
    2.54, 0.6, 0.8, 1.1, 0.6, 0.6, 0.8, 0.6, 0.8, 1.0, 0.6, 1.0,
    3.0, 0.6, 0.7, 1.0, 0.6, 0.6, 0.7, 0.6, 0.7, 0.9, 0.6, 1.0,
    2.55, 0.6, 0.7, 1.0, 0.6, 0.6, 0.8, 0.6, 0.8, 1.0, 0.7, 1.0,
    2.37, 0.6, 0.7, 1.1, 0.6, 0.6, 0.7, 0.6, 0.7, 1.0, 0.7, 1.0,
    2.84, 0.7, 0.8, 1.1, 0.7, 0.7, 0.9, 0.7, 0.8, 1.0, 0.7, 1.0,
    2.58, 0.7, 0.8, 1.0, 0.7, 0.7, 0.9, 0.7, 0.8, 1.1, 0.7, 1.1,
    2.49, 0.7, 0.9, 1.2, 0.7, 0.7, 0.9, 0.7, 0.9, 1.1, 0.8, 1.1,
    2.4, 0.7, 0.9, 1.1, 0.8, 0.7, 0.9, 0.8, 0.9, 1.1, 0.8, 1.1,
    3.0, 0.8, 0.9, 1.2, 0.8, 0.8, 1.0, 0.8, 0.9, 1.2, 0.8, 1.2,
    3.0, 0.8, 1.0, 1.3, 0.8, 0.8, 1.0, 0.8, 1.0, 1.2, 0.9, 1.2,
    2.28, 0.9, 1.0, 1.3, 0.9, 0.9, 1.1, 0.9, 1.0, 1.3, 0.9, 1.3,
    3.37, 0.9, 1.1, 1.4, 0.9, 0.9, 1.1, 0.9, 1.0, 1.2, 1.1, 1.15,
]

nc_vis = [
    0.97, 0.4, 0.5, 0.45, 0.35, 0.3, 0.4, 0.3, 0.4, 0.5, 0.35, 0.6,
    0.83, 0.35, 0.4, 0.55, 0.35, 0.35, 0.45, 0.35, 0.4, 0.55, 0.4, 0.6,
    0.78, 0.3, 0.4, 0.55, 0.35, 0.3, 0.4, 0.3, 0.45, 0.4, 0.35, 0.55,
    0.78, 0.3, 0.4, 0.6, 0.35, 0.3, 0.4, 0.35, 0.4, 0.5, 0.35, 0.55,
    1.15, 0.35, 0.4, 0.55, 0.3, 0.35, 0.4, 0.3, 0.4, 0.6, 0.35, 0.55,
    1.0, 0.3, 0.45, 0.65, 0.35, 0.35, 0.45, 0.35, 0.4, 0.5, 0.35, 0.6,
    1.47, 0.35, 0.4, 0.5, 0.35, 0.35, 0.4, 0.35, 0.4, 0.55, 0.35, 0.5,
    0.9, 0.3, 0.4, 0.6, 0.3, 0.3, 0.4, 0.3, 0.4, 0.5, 0.4, 0.5,
    0.82, 0.3, 0.4, 0.55, 0.3, 0.35, 0.4, 0.3, 0.4, 0.55, 0.35, 0.55,
    0.8, 0.3, 0.4, 0.5, 0.35, 0.3, 0.45, 0.35, 0.4, 0.5, 0.35, 0.5,
    0.95, 0.3, 0.4, 0.55, 0.3, 0.3, 0.4, 0.3, 0.4, 0.5, 0.3, 0.5,
    0.8, 0.3, 0.35, 0.5, 0.3, 0.3, 0.35, 0.3, 0.35, 0.45, 0.3, 0.5,
    0.75, 0.3, 0.35, 0.45, 0.3, 0.3, 0.4, 0.3, 0.4, 0.5, 0.35, 0.45,
    0.7, 0.3, 0.35, 0.55, 0.3, 0.3, 0.35, 0.3, 0.35, 0.5, 0.35, 0.5,
    0.85, 0.35, 0.4, 0.55, 0.35, 0.35, 0.45, 0.35, 0.4, 0.5, 0.35, 0.5,
    0.8, 0.35, 0.4, 0.5, 0.35, 0.35, 0.45, 0.35, 0.4, 0.55, 0.35, 0.55,
    0.85, 0.35, 0.45, 0.6, 0.35, 0.35, 0.45, 0.35, 0.45, 0.55, 0.4, 0.55,
    0.8, 0.35, 0.45, 0.55, 0.4, 0.35, 0.45, 0.4, 0.45, 0.55, 0.4, 0.55,
    0.85, 0.4, 0.45, 0.6, 0.4, 0.4, 0.5, 0.4, 0.45, 0.6, 0.4, 0.6,
    0.95, 0.4, 0.5, 0.65, 0.4, 0.4, 0.5, 0.4, 0.5, 0.6, 0.45, 0.6,
    0.8, 0.45, 0.5, 0.65, 0.45, 0.45, 0.55, 0.45, 0.5, 0.65, 0.45, 0.65,
    1.1, 0.45, 0.55, 0.7, 0.45, 0.45, 0.55, 0.45, 0.5, 0.6, 0.55, 0.6,
]

nc_oth = [
    0.03, 0.05, 0.06, 0.04, 0.05, 0.06, 0.04, 0.05, 0.06, 0.05, 0.06, 0.04,
    0.17, 0.05, 0.06, 0.05, 0.05, 0.06, 0.05, 0.06, 0.05, 0.06, 0.05, 0.04,
    0.04, 0.05, 0.07, 0.05, 0.06, 0.05, 0.05, 0.06, 0.08, 0.05, 0.05, 0.04,
    0.03, 0.05, 0.06, 0.05, 0.06, 0.05, 0.05, 0.06, 0.06, 0.05, 0.06, 0.04,
    0.04, 0.05, 0.06, 0.05, 0.06, 0.06, 0.05, 0.06, 0.05, 0.06, 0.06, 0.04,
    0.04, 0.05, 0.06, 0.05, 0.06, 0.05, 0.05, 0.06, 0.06, 0.05, 0.07, 0.04,
    0.04, 0.06, 0.06, 0.05, 0.06, 0.05, 0.06, 0.06, 0.06, 0.08, 0.06, 0.04,
    0.04, 0.05, 0.06, 0.05, 0.06, 0.06, 0.05, 0.06, 0.06, 0.05, 0.06, 0.04,
    0.04, 0.05, 0.06, 0.05, 0.06, 0.06, 0.05, 0.05, 0.06, 0.06, 0.06, 0.04,
    0.04, 0.06, 0.06, 0.06, 0.06, 0.05, 0.06, 0.06, 0.06, 0.06, 0.06, 0.05,
    0.04, 0.05, 0.07, 0.06, 0.06, 0.06, 0.05, 0.06, 0.16, 0.06, 0.06, 0.04,
    0.04, 0.05, 0.06, 0.05, 0.06, 0.05, 0.05, 0.06, 0.06, 0.05, 0.06, 0.04,
    0.04, 0.05, 0.06, 0.05, 0.06, 0.06, 0.05, 0.06, 0.06, 0.06, 0.06, 0.04,
    0.04, 0.05, 0.06, 0.05, 0.06, 0.06, 0.06, 0.06, 0.07, 0.06, 0.06, 0.05,
    0.04, 0.06, 0.07, 0.06, 0.06, 0.06, 0.06, 0.07, 0.06, 0.07, 0.07, 0.05,
    0.05, 0.06, 0.07, 0.06, 0.07, 0.06, 0.06, 0.07, 0.07, 0.06, 0.07, 0.05,
    0.28, 0.07, 0.08, 0.07, 0.07, 0.07, 0.06, 0.08, 0.07, 0.07, 0.08, 0.06,
    0.06, 0.07, 0.08, 0.07, 0.08, 0.07, 0.07, 0.08, 0.08, 0.07, 0.08, 0.06,
    0.06, 0.08, 0.08, 0.07, 0.1, 0.08, 0.07, 0.08, 0.08, 0.08, 0.09, 0.07,
    0.31, 0.08, 0.09, 0.08, 0.08, 0.09, 0.08, 0.09, 0.09, 0.08, 0.09, 0.07,
    0.07, 0.09, 0.1, 0.09, 0.1, 0.09, 0.09, 0.1, 0.1, 0.09, 0.11, 0.08,
    0.08, 0.1, 0.11, 0.1, 0.11, 0.1, 0.1, 0.12, 0.11, 0.1, 0.12, 0.11,
]

tick_years = list(range(1998, 2020))
tick_labels = ['Jan-%02d' % (y % 100) if y % 2 == 0 else '' for y in tick_years]

YEL = '#e8bf00'
ORA = '#ff760d'
OLV = '#6d6100'
VIO = '#c67ec4'
GRN = '#2f7d05'
RED = '#f2142c'

panels = [
    ('a) nation', [('Australia', australia, YEL)], (0, 27, 54), 'lower left', 1),
    ('b) nation by type', [('AUS bus', aus_bus, YEL), ('AUS hol', aus_hol, ORA),
                           ('AUS vis', aus_vis, OLV), ('AUS oth', aus_oth, VIO)], (0, 15, 30), 'upper left', 4),
    ('c) states', [('NSW', nsw, YEL), ('QLD', qld, GRN), ('WA', wa, RED)], (0, 9, 18), 'upper left', 3),
    ('d) states by type', [('NSW bus', nsw_bus, YEL), ('NSW hol', nsw_hol, ORA),
                           ('NSW vis', nsw_vis, OLV), ('NSW oth', nsw_oth, VIO)], (0, 6, 12), 'upper left', 4),
    ('e) regions', [('NC', nc, YEL), ('GC', gc, GRN)], (0, 2.5, 5), 'upper left', 2),
    ('f) regions by type', [('NC bus', nc_bus, YEL), ('NC hol', nc_hol, ORA),
                            ('NC vis', nc_vis, OLV), ('NC oth', nc_oth, VIO)], (0, 2, 4), 'upper left', 4),
]

fig = plt.figure(figsize=(12.48, 6.28), dpi=100)
W, H = 1248, 628
rows = [(37, 183), (227, 371), (414, 558)]
cols = [108, 698]

for i, (title, series, yt, loc, ncol) in enumerate(panels):
    r, c = divmod(i, 2)
    top, bot = rows[r]
    ax = fig.add_axes([cols[c] / W, 1 - bot / H, 549 / W, (bot - top) / H])
    for name, vals, col in series:
        x = np.arange(len(vals))
        ax.plot(x, vals, color=col, lw=1.5, label=name)
    ax.set_xlim(-1, 263)
    ax.set_ylim(yt[0], yt[-1])
    ax.set_yticks(yt)
    ax.set_yticklabels([('%g' % v) for v in yt])
    ax.set_xticks(np.arange(len(tick_years)) * 12)
    if r == 2:
        ax.set_xticklabels(tick_labels, rotation=90)
    else:
        ax.set_xticklabels([])
    ax.tick_params(direction='out', length=5, width=1.1, labelsize=14, colors='black')
    for sp in ax.spines.values():
        sp.set_linewidth(1.2)
    ax.set_title(title, fontsize=14, fontweight='bold', pad=7)
    if loc == 'lower left':
        leg = ax.legend(loc='lower left', ncol=ncol, fontsize=14, frameon=False,
                        handlelength=1.1, handletextpad=0.9, borderaxespad=0.3)
    else:
        leg = ax.legend(loc='upper left', bbox_to_anchor=(0, 1.0), ncol=ncol, fontsize=14,
                        frameon=True, framealpha=0.7, edgecolor='none', facecolor='white',
                        fancybox=False, handlelength=1.1, handletextpad=0.9,
                        columnspacing=1.0, borderaxespad=0.0, borderpad=0.8)
    leg.set_zorder(5)

fig.text(25 / W, 0.5, 'visitor nights', rotation=90, ha='center', va='center', fontsize=17)
fig.text(45 / W, 0.5, '(in thousands)', rotation=90, ha='center', va='center', fontsize=12)

fig.savefig('out.png', dpi=100)
